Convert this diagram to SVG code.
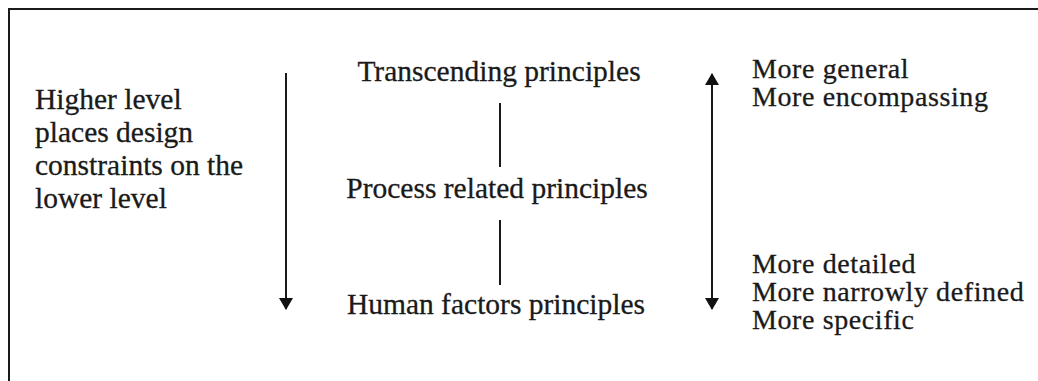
<svg xmlns="http://www.w3.org/2000/svg" width="1038" height="381" viewBox="0 0 1038 381">
  <style>
    .t { font-family: "Liberation Serif", "Times New Roman", serif; font-size: 29.5px; fill: #1a1a1a; stroke: #1a1a1a; stroke-width: 0.3px; }
    .r { font-size: 28px; letter-spacing: 0.6px; }
    .c { text-anchor: middle; }
    .ln { stroke: #1a1a1a; stroke-width: 2; fill: none; }
  </style>
  <defs>
    <marker id="head" viewBox="0 0 12 14" refX="11" refY="7" markerWidth="12" markerHeight="14" markerUnits="userSpaceOnUse" orient="auto-start-reverse">
      <path d="M0,0 L12,7 L0,14 Z" fill="#111"/>
    </marker>
  </defs>
  <rect width="1038" height="381" fill="#fff"/>
  <!-- frame: top and left rules -->
  <path class="ln" d="M9,381 V9 H1038"/>

  <g id="left-note">
    <text class="t" x="35" y="109">Higher level</text>
    <text class="t" x="35" y="142">places design</text>
    <text class="t" x="35" y="175">constraints on the</text>
    <text class="t" x="35" y="208">lower level</text>
  </g>

  <g id="transcending">
    <text class="t c" x="499" y="81">Transcending principles</text>
  </g>
  <g id="process">
    <text class="t c" x="497" y="198">Process related principles</text>
  </g>
  <g id="human-factors">
    <text class="t c" x="496" y="314">Human factors principles</text>
  </g>

  <g id="general-note">
    <text class="t r" x="752" y="78">More general</text>
    <text class="t r" x="752" y="106">More encompassing</text>
  </g>
  <g id="specific-note">
    <text class="t r" x="752" y="273">More detailed</text>
    <text class="t r" x="752" y="301">More narrowly defined</text>
    <text class="t r" x="752" y="329">More specific</text>
  </g>

  <g id="connectors">
    <line class="ln" x1="500" y1="103" x2="500" y2="167"/>
    <line class="ln" x1="500" y1="220" x2="500" y2="285"/>
    <line class="ln" x1="286" y1="73" x2="286" y2="309" marker-end="url(#head)"/>
    <line class="ln" x1="712" y1="74" x2="712" y2="309" marker-start="url(#head)" marker-end="url(#head)"/>
  </g>
</svg>
